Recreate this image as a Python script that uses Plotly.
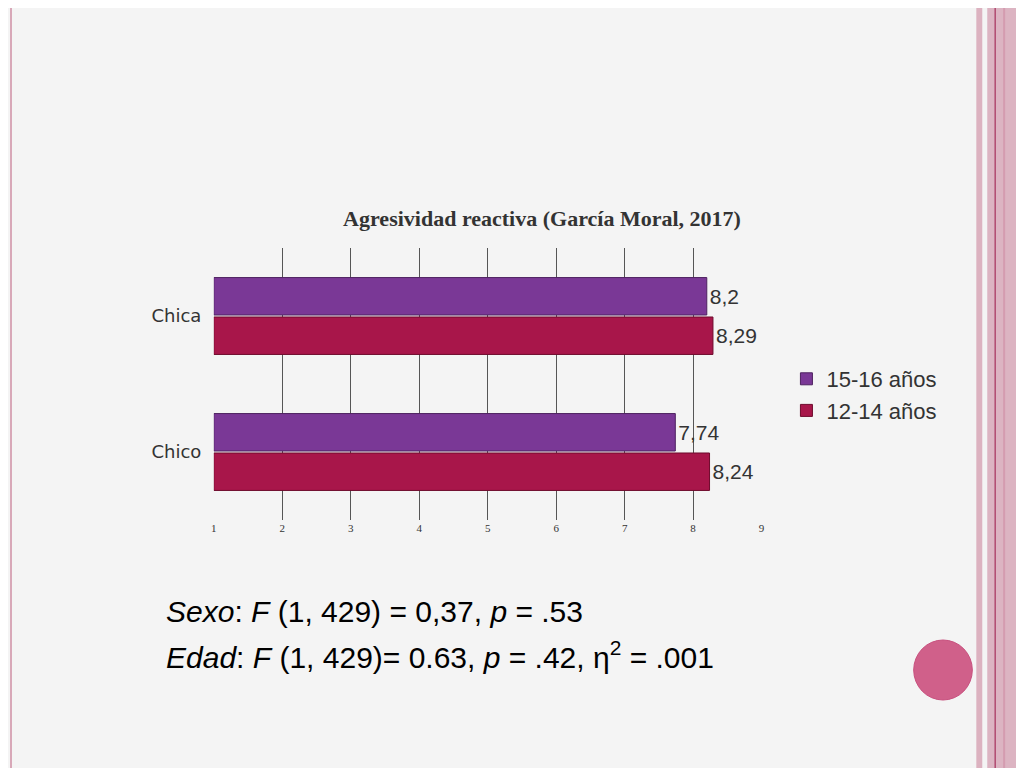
import plotly.graph_objects as go

# Data
categories = ["Chico", "Chica"]
values_12_14 = [8.24, 8.29]
values_15_16 = [7.74, 8.2]
labels_12_14 = ["8,24", "8,29"]
labels_15_16 = ["7,74", "8,2"]
x_ticks = [1, 2, 3, 4, 5, 6, 7, 8, 9]

W, H = 1024, 768
OFF = 8  # page body margin


def px_x(p):
    return (p - OFF) / W


def px_y(p):
    return 1 - (p - OFF) / H


fig = go.Figure()

fig.add_trace(go.Bar(
    y=categories, x=[v - 1 for v in values_12_14], base=1, orientation="h", name="12-14 años",
    marker=dict(color="#a8164a", line=dict(color="#6e0a2c", width=1)),
    text=labels_12_14, textposition="outside", cliponaxis=False,
    textfont=dict(family="Liberation Sans", size=21, color="#333333"),
))
fig.add_trace(go.Bar(
    y=categories, x=[v - 1 for v in values_15_16], base=1, orientation="h", name="15-16 años",
    marker=dict(color="#7a3896", line=dict(color="#4e2260", width=1)),
    text=labels_15_16, textposition="outside", cliponaxis=False,
    textfont=dict(family="Liberation Sans", size=21, color="#333333"),
))

fig.update_layout(
    width=W, height=H,
    margin=dict(l=0, r=0, t=0, b=0),
    paper_bgcolor="#f4f4f4", plot_bgcolor="rgba(0,0,0,0)",
    barmode="group", bargap=0.42, bargroupgap=0.05,
    showlegend=True,
    legend=dict(x=px_x(788), y=px_y(358), xanchor="left", yanchor="top",
                traceorder="reversed", bgcolor="rgba(0,0,0,0)",
                font=dict(family="Liberation Sans", size=22, color="#333333")),
    title=dict(text="<b>Agresividad reactiva (García Moral, 2017)</b>",
               x=px_x(542), y=px_y(218), xanchor="center", yanchor="middle",
               font=dict(family="Liberation Serif", size=22, color="#333333")),
    xaxis=dict(domain=[px_x(212), px_x(763)], range=[1, 9], tickvals=x_ticks,
               showgrid=True, gridcolor="#555555", gridwidth=1, zeroline=False,
               tickfont=dict(family="Liberation Serif", size=11, color="#333333"),
               ticks="", showline=False),
    yaxis=dict(domain=[px_y(520), px_y(248)], showgrid=False,
               tickfont=dict(family="DejaVu Sans", size=18, color="#333333"),
               ticksuffix="  ", showline=False),
    shapes=[
        dict(type="line", xref="paper", yref="paper", x0=px_x(8), x1=px_x(8), y0=0, y1=1,
             line=dict(color="#d8a8b8", width=2)),
        dict(type="rect", xref="paper", yref="paper", x0=px_x(979), x1=px_x(985), y0=0, y1=1,
             line=dict(width=0), fillcolor="#dcb2c0"),
        dict(type="rect", xref="paper", yref="paper", x0=px_x(990), x1=1, y0=0, y1=1,
             line=dict(width=0), fillcolor="#dcb4c2"),
        dict(type="line", xref="paper", yref="paper", x0=px_x(998), x1=px_x(998), y0=0, y1=1,
             line=dict(color="#b04a70", width=1.5)),
        dict(type="line", xref="paper", yref="paper", x0=px_x(1007), x1=px_x(1007), y0=0, y1=1,
             line=dict(color="#d49cb0", width=2)),
        dict(type="circle", xref="paper", yref="paper", x0=px_x(916), x1=px_x(975),
             y0=px_y(700), y1=px_y(640), line=dict(color="#c8507e", width=1),
             fillcolor="#d0608a"),
    ],
    annotations=[
        dict(text="<i>Sexo</i>: <i>F</i> (1, 429) = 0,37, <i>p</i> = .53",
             x=px_x(162), y=px_y(611), xref="paper", yref="paper",
             xanchor="left", yanchor="middle", showarrow=False,
             font=dict(family="Liberation Sans", size=30, color="#000000")),
        dict(text="<i>Edad</i>: <i>F</i> (1, 429)= 0.63, <i>p</i> = .42, η<sup>2</sup> = .001",
             x=px_x(162), y=px_y(655), xref="paper", yref="paper",
             xanchor="left", yanchor="middle", showarrow=False,
             font=dict(family="Liberation Sans", size=30, color="#000000")),
    ],
)

fig.write_html("out.html")
